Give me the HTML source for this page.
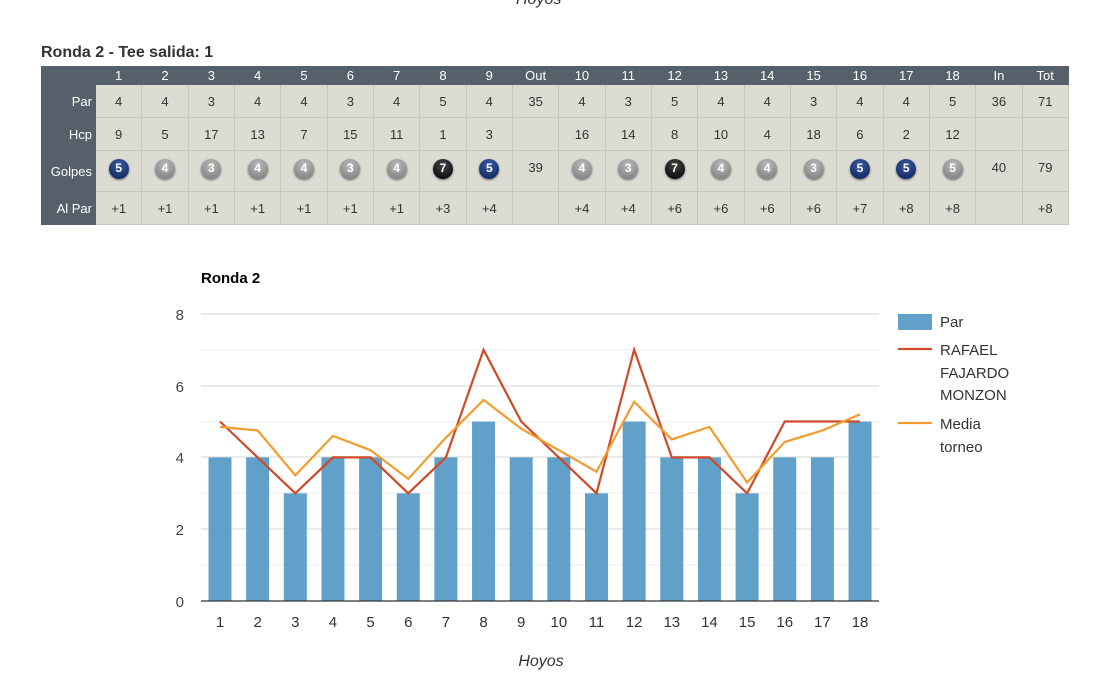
<!DOCTYPE html>
<html><head><meta charset="utf-8"><style>
body{margin:0;width:1104px;height:678px;background:#fff;font-family:"Liberation Sans",sans-serif;position:relative;overflow:hidden}
.t{position:absolute;left:41px;top:44px;font-weight:bold;font-size:16px;color:#333}
table{position:absolute;left:41px;top:66px;border-collapse:collapse;width:1027px;font-size:13px;color:#333;table-layout:fixed}
td,th{text-align:center;padding:0;border:1px solid #c8c8c0;overflow:hidden}
th{background:#56606a;color:#fff;font-weight:normal;height:17px;border-color:#56606a;font-size:13px}
td{background:#dcdcd3}
td.l{background:#56606a;color:#fff;text-align:right;padding-right:3px;border-color:#56606a}
tr.r td{height:32px}
tr.g td{height:28px;vertical-align:top;padding-top:8px;line-height:17px}
.b{display:inline-block;width:20px;height:20px;border-radius:50%;color:#fff;font-size:12px;line-height:18px;font-weight:bold;box-shadow:0 1px 2px #666}
.w{background:radial-gradient(circle at 50% 30%,#bbb,#777)}
.n{background:radial-gradient(circle at 50% 30%,#3a5aa0,#0a1f55)}
.k{background:radial-gradient(circle at 50% 30%,#444,#000)}
</style></head><body>
<div style="position:absolute;left:516px;top:-9px;font-style:italic;font-size:16px;color:#333">Hoyos</div>
<div class="t">Ronda 2 - Tee salida: 1</div>
<table>
<colgroup><col style="width:54px"><col span="21" style="width:46.33px"></colgroup>
<tr><th></th><th>1</th><th>2</th><th>3</th><th>4</th><th>5</th><th>6</th><th>7</th><th>8</th><th>9</th><th>Out</th><th>10</th><th>11</th><th>12</th><th>13</th><th>14</th><th>15</th><th>16</th><th>17</th><th>18</th><th>In</th><th>Tot</th></tr>
<tr class="r"><td class="l">Par</td><td>4</td><td>4</td><td>3</td><td>4</td><td>4</td><td>3</td><td>4</td><td>5</td><td>4</td><td>35</td><td>4</td><td>3</td><td>5</td><td>4</td><td>4</td><td>3</td><td>4</td><td>4</td><td>5</td><td>36</td><td>71</td></tr>
<tr class="r"><td class="l">Hcp</td><td>9</td><td>5</td><td>17</td><td>13</td><td>7</td><td>15</td><td>11</td><td>1</td><td>3</td><td></td><td>16</td><td>14</td><td>8</td><td>10</td><td>4</td><td>18</td><td>6</td><td>2</td><td>12</td><td></td><td></td></tr>
<tr class="g"><td class="l" style="padding-top:12px">Golpes</td><td><span class="b n">5</span></td><td><span class="b w">4</span></td><td><span class="b w">3</span></td><td><span class="b w">4</span></td><td><span class="b w">4</span></td><td><span class="b w">3</span></td><td><span class="b w">4</span></td><td><span class="b k">7</span></td><td><span class="b n">5</span></td><td>39</td><td><span class="b w">4</span></td><td><span class="b w">3</span></td><td><span class="b k">7</span></td><td><span class="b w">4</span></td><td><span class="b w">4</span></td><td><span class="b w">3</span></td><td><span class="b n">5</span></td><td><span class="b n">5</span></td><td><span class="b w">5</span></td><td>40</td><td>79</td></tr>
<tr class="r"><td class="l">Al Par</td><td>+1</td><td>+1</td><td>+1</td><td>+1</td><td>+1</td><td>+1</td><td>+1</td><td>+3</td><td>+4</td><td></td><td>+4</td><td>+4</td><td>+6</td><td>+6</td><td>+6</td><td>+6</td><td>+7</td><td>+8</td><td>+8</td><td></td><td>+8</td></tr>
</table>
<svg width="1104" height="678" style="position:absolute;left:0;top:0" font-family="Liberation Sans, sans-serif">
<text x="201" y="283" font-size="15" font-weight="bold" fill="#000">Ronda 2</text>
<g stroke="#eee" stroke-width="1">
<line x1="201" x2="879" y1="565" y2="565"/><line x1="201" x2="879" y1="493" y2="493"/><line x1="201" x2="879" y1="422" y2="422"/><line x1="201" x2="879" y1="350" y2="350"/>
</g>
<g stroke="#ddd" stroke-width="1.3">
<line x1="201" x2="879" y1="529" y2="529"/><line x1="201" x2="879" y1="457" y2="457"/><line x1="201" x2="879" y1="386" y2="386"/><line x1="201" x2="879" y1="314" y2="314"/>
</g>
<g font-size="15" fill="#444" text-anchor="end">
<text x="184" y="607">0</text><text x="184" y="535">2</text><text x="184" y="463">4</text><text x="184" y="392">6</text><text x="184" y="320">8</text>
</g>
<g fill="#61a0c8" id="bars"></g>
<line x1="201" x2="879" y1="601" y2="601" stroke="#333" stroke-width="1.3"/>
<polyline id="r" fill="none" stroke="#cf4a26" stroke-width="2.2"/>
<polyline id="m" fill="none" stroke="#f39c2d" stroke-width="2.2"/>
<g id="xl" font-size="15" fill="#333" text-anchor="middle"></g>
<text x="541" y="666" font-size="16" font-style="italic" fill="#333" text-anchor="middle">Hoyos</text>
<rect x="898" y="314" width="34" height="16" fill="#61a0c8"/>
<text x="940" y="327" font-size="15" fill="#333">Par</text>
<line x1="898" x2="932" y1="349" y2="349" stroke="#cf4a26" stroke-width="2.2"/>
<text font-size="15" fill="#333"><tspan x="940" y="355">RAFAEL</tspan><tspan x="940" y="378">FAJARDO</tspan><tspan x="940" y="400">MONZON</tspan></text>
<line x1="898" x2="932" y1="423" y2="423" stroke="#f39c2d" stroke-width="2.2"/>
<text font-size="15" fill="#333"><tspan x="940" y="429">Media</tspan><tspan x="940" y="452">torneo</tspan></text>
</svg>
<script>
var par=[4,4,3,4,4,3,4,5,4,4,3,5,4,4,3,4,4,5],g=[5,4,3,4,4,3,4,7,5,4,3,7,4,4,3,5,5,5],
m=[4.85,4.75,3.5,4.6,4.2,3.4,4.55,5.6,4.8,4.2,3.6,5.55,4.5,4.85,3.3,4.43,4.75,5.2];
function X(i){return 220+i*37.65}function Y(v){return 601-v*35.9}
var ns="http://www.w3.org/2000/svg",b=document.getElementById('bars'),xl=document.getElementById('xl'),rp=[],mp=[];
for(var i=0;i<18;i++){var r=document.createElementNS(ns,'rect');r.setAttribute('x',X(i)-11.5);r.setAttribute('width',23);r.setAttribute('y',Y(par[i]));r.setAttribute('height',par[i]*35.9);b.appendChild(r);
var t=document.createElementNS(ns,'text');t.setAttribute('x',X(i));t.setAttribute('y',627);t.textContent=i+1;xl.appendChild(t);
rp.push(X(i)+','+Y(g[i]));mp.push(X(i)+','+Y(m[i]));}
document.getElementById('r').setAttribute('points',rp.join(' '));document.getElementById('m').setAttribute('points',mp.join(' '));
</script>
</body></html>
